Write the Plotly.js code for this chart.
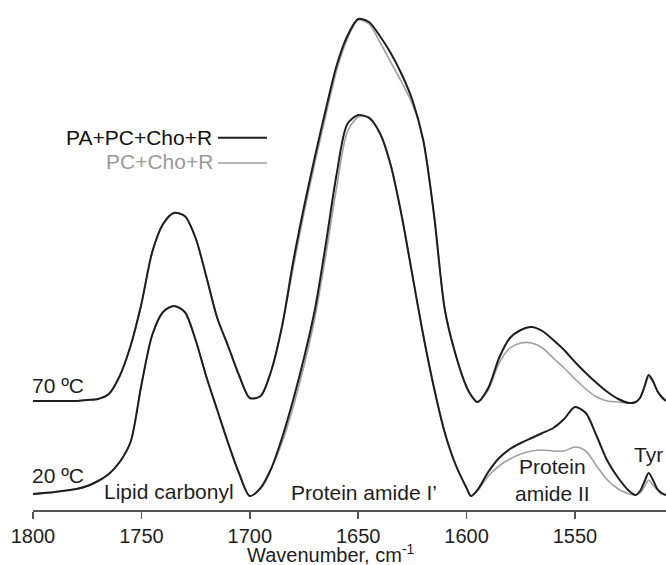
<!DOCTYPE html>
<html>
<head>
<meta charset="utf-8">
<script src="https://cdn.plot.ly/plotly-3.0.1.min.js"></script>
<style>
  html, body { margin: 0; padding: 0; background: #ffffff; overflow: hidden; }
  #chart { width: 666px; height: 565px; }
</style>
</head>
<body>
<div id="chart"></div>
<script>
// Wavenumber grid (cm^-1), shared by all four spectra
const wavenumber = [1800,1790,1780,1775,1770,1765,1760,1755,1750,1745,1740,1735,1730,1725,1720,1715,1710,1705,1700,1695,1690,1685,1680,1675,1670,1665,1660,1655,1650,1645,1640,1635,1630,1625,1620,1615,1610,1605,1600,1598,1595,1590,1585,1580,1575,1570,1565,1560,1555,1550,1545,1540,1535,1530,1525,1522,1520,1518,1516,1514,1512,1510,1508];

// Absorbance (arbitrary units, stacked display offsets included)
// 70 ºC, PA+PC+Cho+R (black)
const abs70_PA = [1.09,1.09,1.09,1.10,1.11,1.16,1.34,1.64,2.06,2.58,2.86,2.97,2.94,2.72,2.33,1.92,1.64,1.35,1.12,1.14,1.40,1.85,2.48,3.03,3.53,4.00,4.44,4.74,4.91,4.88,4.74,4.57,4.36,4.10,3.70,2.95,2.00,1.55,1.23,1.15,1.08,1.22,1.52,1.72,1.80,1.83,1.79,1.70,1.60,1.48,1.37,1.27,1.18,1.11,1.07,1.08,1.12,1.23,1.35,1.29,1.19,1.13,1.09];
// 70 ºC, PC+Cho+R (grey)
const abs70_PC = [1.09,1.09,1.09,1.10,1.11,1.16,1.34,1.64,2.06,2.58,2.86,2.97,2.94,2.72,2.33,1.92,1.64,1.35,1.12,1.14,1.40,1.85,2.42,2.97,3.47,3.94,4.39,4.71,4.90,4.86,4.68,4.48,4.28,4.06,3.70,2.95,2.00,1.55,1.23,1.15,1.08,1.20,1.47,1.62,1.67,1.67,1.62,1.52,1.42,1.31,1.21,1.13,1.09,1.08,1.07,1.08,1.12,1.22,1.33,1.28,1.19,1.13,1.09];
// 20 ºC, PA+PC+Cho+R (black)
const abs20_PA = [0.16,0.18,0.21,0.24,0.29,0.36,0.48,0.68,1.25,1.75,1.98,2.04,1.98,1.70,1.33,1.00,0.67,0.37,0.14,0.22,0.42,0.73,1.10,1.52,2.00,2.65,3.35,3.86,3.95,3.92,3.77,3.45,2.95,2.35,1.75,1.22,0.77,0.45,0.22,0.14,0.20,0.38,0.52,0.61,0.67,0.72,0.77,0.82,0.91,1.03,0.97,0.74,0.49,0.32,0.19,0.15,0.19,0.28,0.37,0.30,0.21,0.17,0.15];
// 20 ºC, PC+Cho+R (grey)
const abs20_PC = [0.16,0.18,0.21,0.24,0.29,0.36,0.48,0.68,1.25,1.75,1.98,2.04,1.98,1.70,1.33,1.00,0.67,0.37,0.14,0.22,0.42,0.68,1.03,1.44,1.92,2.54,3.22,3.78,3.93,3.93,3.77,3.45,2.95,2.35,1.75,1.22,0.77,0.45,0.22,0.14,0.19,0.34,0.44,0.51,0.56,0.59,0.60,0.59,0.59,0.63,0.59,0.44,0.30,0.21,0.16,0.15,0.17,0.23,0.30,0.25,0.20,0.16,0.15];

const seriesNames = ['PA+PC+Cho+R', 'PC+Cho+R'];
const tempLabels = ['70 ºC', '20 ºC'];
const bandLabels = ['Lipid carbonyl', 'Protein amide I’', 'Protein<br>amide II', 'Tyr'];
const tickValues = [1800, 1750, 1700, 1650, 1600, 1550];

const BLACK = '#1e1e1e';
const GREY = '#a0a0a0';
const FONT = 'Liberation Sans, Arial, Helvetica, sans-serif';
const FS = 21;

function trace(y, color, width, name) {
  return {
    x: wavenumber, y: y, type: 'scatter', mode: 'lines', name: name,
    line: { color: color, width: width, shape: 'spline', smoothing: 0.8 },
    showlegend: false, hoverinfo: 'skip'
  };
}

const data = [
  trace(abs70_PC, GREY, 1.6, seriesNames[1] + ' 70'),
  trace(abs20_PC, GREY, 1.6, seriesNames[1] + ' 20'),
  trace(abs70_PA, BLACK, 2, seriesNames[0] + ' 70'),
  trace(abs20_PA, BLACK, 2, seriesNames[0] + ' 20')
];

// paper helpers: plot area is 633 x 510 px, starting at x=33
const px = v => (v - 33) / 633;
const py = v => (510 - v) / 510;

function ann(text, x, y, xanchor, color, yanchor, size) {
  return {
    text: text, xref: 'paper', yref: 'paper', x: x, y: y,
    xanchor: xanchor, yanchor: yanchor || 'middle', showarrow: false,
    font: { family: FONT, size: size || FS, color: color || '#1e1e1e' }
  };
}

const layout = {
  width: 666, height: 565,
  margin: { l: 33, r: 0, t: 0, b: 55, pad: 0 },
  paper_bgcolor: '#ffffff', plot_bgcolor: '#ffffff',
  showlegend: false,
  xaxis: {
    range: [1800, 1508], tickvals: tickValues, ticktext: tickValues.map(String),
    ticks: 'outside', ticklen: 7, tickwidth: 1.5, tickcolor: '#555555',
    showline: true, linecolor: '#555555', linewidth: 1.5,
    showgrid: false, zeroline: false, automargin: false,
    tickfont: { family: FONT, size: 20, color: '#1e1e1e' },
    fixedrange: true
  },
  yaxis: {
    range: [0, 5.1], visible: false, showgrid: false, zeroline: false,
    automargin: false, fixedrange: true
  },
  annotations: [
    ann(tempLabels[0], px(30), py(385), 'left'),
    ann(tempLabels[1], px(30), py(475), 'left'),
    ann(bandLabels[0], px(102), py(491), 'left'),
    ann(bandLabels[1], px(289), py(492), 'left'),
    ann(bandLabels[2], px(552), py(480), 'center'),
    ann(bandLabels[3], px(632), py(455), 'left'),
    ann(seriesNames[0], px(214), py(137), 'right', '#111111'),
    ann(seriesNames[1], px(215), py(161), 'right', '#9a9a9a'),
    ann('Wavenumber, cm<sup>-1</sup>', px(331), py(553.5), 'center', '#1e1e1e', 'middle', 20)
  ],
  shapes: [
    { type: 'line', xref: 'paper', yref: 'paper', x0: px(218), x1: px(267), y0: py(137.7), y1: py(137.7),
      line: { color: BLACK, width: 2 } },
    { type: 'line', xref: 'paper', yref: 'paper', x0: px(218), x1: px(267), y0: py(163), y1: py(163),
      line: { color: GREY, width: 1.6 } }
  ]
};

Plotly.newPlot('chart', data, layout, { staticPlot: true, displayModeBar: false });
</script>
</body>
</html>
